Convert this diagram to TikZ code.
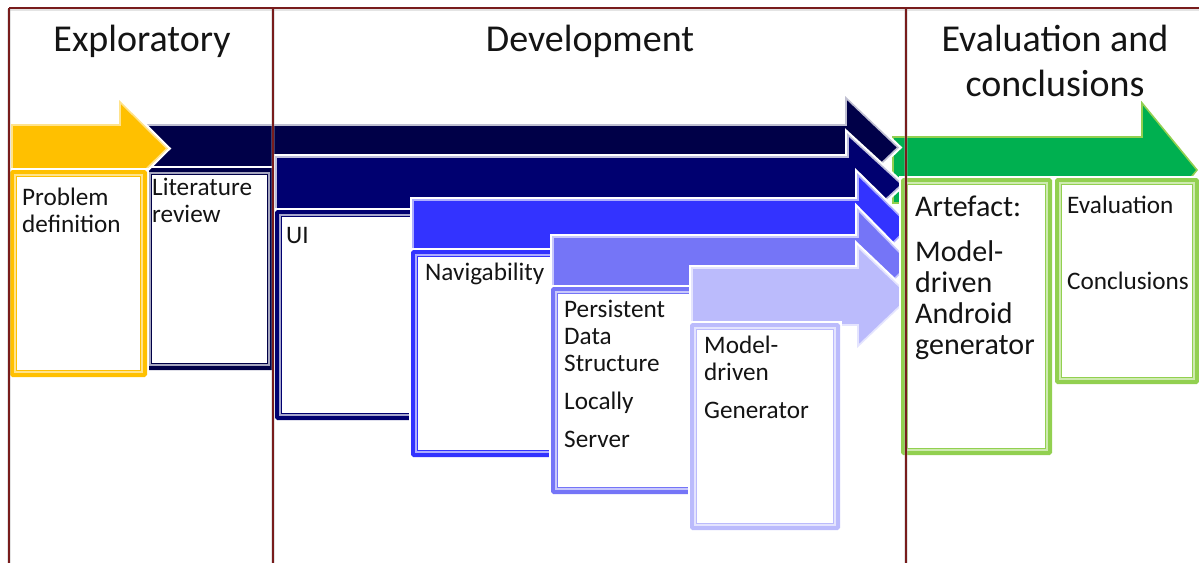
\documentclass[tikz,border=0pt]{standalone}
\usepackage{fontspec}
\setmainfont{Carlito}
\definecolor{cYel}{RGB}{255,192,0}
\definecolor{cNavA}{RGB}{0,0,72}
\definecolor{cNavB}{RGB}{0,0,112}
\definecolor{cBlue}{RGB}{51,51,255}
\definecolor{cMid}{RGB}{117,117,247}
\definecolor{cLite}{RGB}{187,187,252}
\definecolor{cGreen}{RGB}{0,176,80}
\definecolor{cLGreen}{RGB}{146,208,80}
\definecolor{cFrame}{RGB}{120,28,28}
\definecolor{cText}{RGB}{20,20,20}
% #1 colour, #2 left, #3 body top, #4 body bottom, #5 head base x, #6 head top y, #7 tip x, #8 outline colour
\newcommand\procarrow[8]{%
  \path[draw=white, line width=6, line join=miter]
    (#2,#3) -- (#5,#3) -- (#5,#6) -- (#7,{(#3+#4)/2}) -- (#5,{#3+#4-#6}) -- (#5,#4) -- (#2,#4) -- cycle;
  \path[fill=#1, draw=#8, line width=1.6, line join=miter]
    (#2,#3) -- (#5,#3) -- (#5,#6) -- (#7,{(#3+#4)/2}) -- (#5,{#3+#4-#6}) -- (#5,#4) -- (#2,#4) -- cycle;}
% #1 colour, #2 left, #3 top, #4 right, #5 bottom, #6 light line colour
\newcommand\procbox[6]{%
  \draw[white, line width=8] (#2,#3) rectangle (#4,#5);
  \draw[line width=4, draw=#1, fill=white, rounded corners=1] (#2,#3) rectangle (#4,#5);
  \draw[line width=1.3, draw=#6] ({#2+3},{#3+3}) rectangle ({#4-3},{#5-3});
  \draw[line width=0.8, draw=#1] ({#2+4.6},{#3+4.6}) rectangle ({#4-4.6},{#5-4.6});}
\begin{document}
\begin{tikzpicture}[x=1pt,y=-1pt,
  lbl/.style={anchor=base west, inner sep=0, text=cText, font=\fontsize{25.2}{29}\selectfont},
  big/.style={anchor=base west, inner sep=0, text=cText, font=\fontsize{30}{32}\selectfont},
  hdr/.style={anchor=base, inner sep=0, text=cText, font=\fontsize{38}{44}\selectfont},
  frame/.style={draw=cFrame, line width=1.6},
  frameshadow/.style={draw=black!30, line width=4, opacity=0.35}]
\useasboundingbox (0,0) rectangle (1199,563);
\fill[white] (0,0) rectangle (1199,563);

% green arrow (behind)
\procarrow{cGreen}{893}{137}{203}{1142}{103}{1197}{cLGreen}

% dark navy arrow + Literature review box
\procarrow{cNavA}{147}{125}{170}{846}{98}{898}{white!75!cNavA}
\procbox{cNavA}{147}{170}{272}{368}{white!65!cNavA}

% yellow arrow + Problem definition box
\procarrow{cYel}{12}{125}{172}{120}{102}{167}{white!55!cYel}
\procbox{cYel}{12}{172}{145}{375}{white!55!cYel}

% UI
\procarrow{cNavB}{276}{157}{212}{848}{135}{902}{white!75!cNavB}
\procbox{cNavB}{277}{212}{425}{418}{white!65!cNavB}

% Navigability
\procarrow{cBlue}{413}{200}{252}{858}{175}{910}{white!60!cBlue}
\procbox{cBlue}{413}{252}{565}{455}{white!60!cBlue}

% Persistent data structure
\procarrow{cMid}{553}{237}{289}{858}{210}{910}{white!60!cMid}
\procbox{cMid}{553}{289}{705}{492}{white!60!cMid}

% Model-driven generator
\procarrow{cLite}{692}{268}{325}{858}{247}{910}{white!60!cLite}
\procbox{cLite}{692}{325}{838}{528}{white!60!cLite}

% green boxes
\procbox{cLGreen}{903}{180}{1050}{453}{white!55!cLGreen}
\procbox{cLGreen}{1057}{180}{1197}{382}{white!55!cLGreen}

% frame lines
\draw[frameshadow] (9,9) -- (9,563);
\draw[frameshadow] (273,9) -- (273,563);
\draw[frameshadow] (906,9) -- (906,563);
\draw[frameshadow] (9,9) -- (1199,9);
\draw[frame] (9,8) -- (1199,8);
\draw[frame] (9,8) -- (9,563);
\draw[frame] (273,8) -- (273,563);
\draw[frame] (906,8) -- (906,563);

% headers
\node[hdr] (hExp) at (142,51) {Exploratory};
\node[hdr] (hDev) at (590,51) {Development};
\node[hdr] (hEv1) at (1055,51) {Evaluation and};
\node[hdr] (hEv2) at (1055,96) {conclusions};

% texts
\node[lbl] (pd1) at (22,205) {Problem};
\node[lbl] (pd2) at (22,232) {definition};
\node[lbl] (lr1) at (152,195) {Literature};
\node[lbl] (lr2) at (152,222) {review};
\node[lbl] (ui) at (286,243) {UI};
\node[lbl] (nav) at (425,280) {Navigability};
\node[lbl] (ps1) at (564,317) {Persistent};
\node[lbl] (ps2) at (564,344) {Data};
\node[lbl] (ps3) at (564,371) {Structure};
\node[lbl] (ps4) at (564,409) {Locally};
\node[lbl] (ps5) at (564,447) {Server};
\node[lbl] (md1) at (704,353) {Model-};
\node[lbl] (md2) at (704,380) {driven};
\node[lbl] (md3) at (704,418) {Generator};
\node[big] (ar1) at (915,216) {Artefact:};
\node[big] (ar2) at (915,261) {Model-};
\node[big] (ar3) at (915,292) {driven};
\node[big] (ar4) at (915,323) {Android};
\node[big] (ar5) at (915,354) {generator};
\node[lbl] (ev1) at (1067,213) {Evaluation};
\node[lbl] (ev2) at (1067,289) {Conclusions};
\end{tikzpicture}
\end{document}
